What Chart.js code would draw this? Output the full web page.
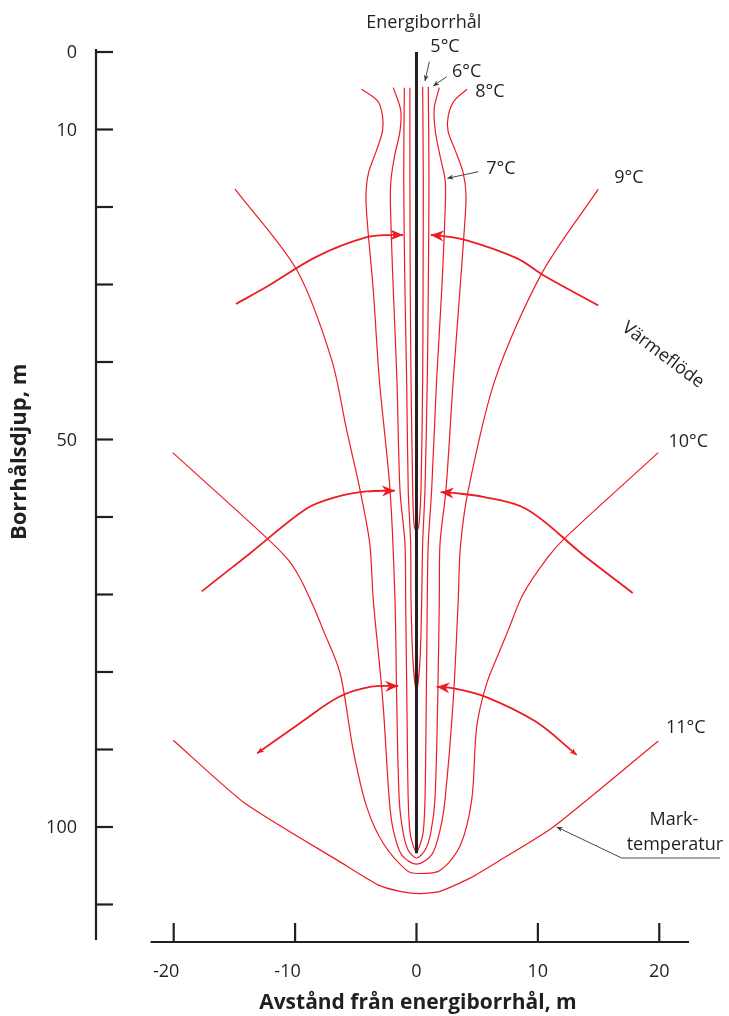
<!DOCTYPE html>
<html>
<head>
<meta charset="utf-8">
<script src="https://cdn.jsdelivr.net/npm/chart.js@4.4.1/dist/chart.umd.min.js"></script>
<style>
  html, body { margin: 0; padding: 0; background: #fff; }
  #wrap { width: 729px; height: 1016px; }
</style>
</head>
<body>
<div id="wrap"><canvas id="diagram" width="729" height="1016"></canvas></div>
<script>
// Axlar
const xTicks = [-20, -10, 0, 10, 20];
const xTickLabels = ['-20', '-10', '0', '10', '20'];
const yTicks = [0, 10, 20, 30, 40, 50, 60, 70, 80, 90, 100, 110];
const yTickLabels = ['0', '10', '', '', '', '50', '', '', '', '', '100', ''];

// Energiborrhål (avstånd m, djup m)
const holeX = [0, 0];
const holeDepth = [0, 103.4];

// Isotermer
const iso5X = [-0.54, -0.54, -0.51, -0.45, -0.31, -0.2, 0, 0.2, 0.37, 0.51, 0.54, 0.56, 0.51];
const iso5Depth = [4.6, 16.5, 30.7, 42.3, 56.5, 61, 61.9, 61, 56.5, 42.3, 30.7, 16.5, 4.5];

const iso6X = [-1.0, -1.05, -0.95, -0.81, -0.68, -0.48, -0.45, -0.29, 0, 0.29, 0.43, 0.51, 0.7, 0.89, 0.97, 1.03, 0.97];
const iso6Depth = [4.6, 16.5, 30.7, 42.3, 56.5, 63.4, 70.7, 78.5, 82.3, 78.5, 70.7, 63.4, 56.5, 42.3, 30.7, 16.5, 4.5];

const iso7X = [-1.91, -1.3, -1.36, -1.8, -2.1, -2.15, -1.91, -1.61, -1.36, -0.95, -0.89, -0.76, -0.68, -0.54, -0.29, 0, 0.29, 0.56, 0.7, 0.78, 0.89, 0.97, 1.25, 1.66, 2.08, 2.38, 2.36, 1.94, 1.55, 1.46, 1.88];
const iso7Depth = [4.6, 7.5, 10.2, 13.4, 16.5, 19.5, 30.7, 42.3, 56.5, 63.4, 70.7, 87.9, 96.5, 100.6, 102.3, 103.2, 102.3, 100.6, 96.5, 87.9, 70.7, 63.4, 56.5, 42.3, 30.7, 19.5, 16.5, 13.4, 10.2, 7.3, 4.6];

const iso8X = [-4.51, -3.2, -2.8, -2.8, -3.27, -3.95, -4.16, -4.05, -3.56, -3.06, -2.18, -1.77, -1.63, -1.42, -1.09, -0.68, 0, 0.7, 1.17, 1.52, 1.75, 1.88, 1.94, 2.43, 3.03, 3.58, 3.98, 4.08, 3.85, 3.17, 2.6, 2.62, 3.1, 4.16];
const iso8Depth = [4.8, 6.3, 8.2, 10.2, 12.6, 15.6, 18.5, 22.0, 30.7, 42.3, 56.5, 70.7, 83.6, 96.5, 100.8, 103.0, 104.0, 103.0, 100.8, 96.5, 83.6, 70.7, 63.4, 56.5, 42.3, 30.7, 22.0, 18.5, 15.6, 12.6, 10.2, 8.2, 6.3, 4.8];

const iso9X = [-14.95, -9.87, -6.99, -5.75, -4.65, -3.85, -3.56, -2.78, -2.24, -1.91, -1.22, 0, 1.25, 1.94, 2.35, 3.03, 3.44, 3.62, 4.27, 6.47, 10.31, 14.98];
const iso9Depth = [17.7, 28.1, 39.7, 48.8, 56.5, 63.4, 70.7, 83.6, 96.5, 100.4, 103.6, 104.8, 103.6, 100.4, 96.5, 83.6, 70.7, 63.8, 56.5, 42.3, 28.6, 17.7];

const iso10X = [-20.08, -12.48, -10.58, -9.59, -8.53, -7.68, -6.3, -5.21, -4.1, -2.74, -0.81, 0.12, 1.94, 3.58, 4.55, 4.96, 5.78, 6.88, 7.56, 8.8, 10.86, 12.37, 19.92];
const iso10Depth = [51.7, 62.5, 65.5, 67.9, 71.4, 74.6, 80.1, 90.1, 97.4, 102.1, 105.6, 106.0, 105.6, 102.5, 96.5, 87.1, 81.5, 77.2, 74.6, 69.9, 65.1, 62.5, 51.7];

const iso11X = [-20.04, -14.16, -6.3, -3.12, -1.36, 0.29, 1.94, 4.41, 6.88, 11.27, 19.92];
const iso11Depth = [88.8, 96.9, 104.5, 107.5, 108.3, 108.6, 108.3, 106.6, 104.3, 100.0, 88.9];

// Värmeflöde (pilar mot borrhålet)
const flow1LX = [-14.87, -12.34, -8.22, -4.1, -1.91, -1.09];
const flow1LDepth = [32.5, 30.3, 26.4, 23.9, 23.6, 23.6];
const flow1RX = [14.98, 10.45, 8.25, 4.14, 1.94, 1.17];
const flow1RDepth = [32.7, 28.8, 26.6, 24.3, 23.7, 23.6];
const flow2LX = [-17.69, -13.72, -9.04, -6.57, -4.1, -1.77];
const flow2LDepth = [69.6, 64.7, 58.9, 57.4, 56.7, 56.6];
const flow2RX = [17.81, 13.74, 9.08, 5.5, 3.03, 1.99];
const flow2RDepth = [69.8, 64.9, 59.0, 57.4, 56.9, 56.8];
const flow3LX = [-13.13, -9.6, -6.36, -3.72, -1.5];
const flow3LDepth = [90.5, 86.6, 83.2, 81.9, 81.8];
const flow3RX = [13.2, 9.82, 5.7, 3.06, 1.66];
const flow3RDepth = [90.7, 86.4, 83.2, 82.1, 81.9];

// Hänvisningslinjer
const lead5X = [1.06, 0.7];
const lead5Depth = [1.25, 3.74];
const lead6X = [2.49, 1.38];
const lead6Depth = [3.19, 4.39];
const lead7X = [5.09, 2.54];
const lead7Depth = [15.45, 16.3];
const leadMarkX = [16.9, 11.55];
const leadMarkDepth = [104.0, 100.0];
const underlineX = [16.9, 25.0];
const underlineDepth = [104.0, 104.0];

const RED = '#ed1c24';
const INK = '#231f20';
const FONT = '"Open Sans", "Noto Sans", sans-serif';

// Text i diagrammet (placering i axlarnas enheter)
const notes = [
    { text: 'Energiborrhål', x: 0.6, y: -3.7 },
    { text: '5°C', x: 2.35, y: -0.65 },
    { text: '6°C', x: 4.13, y: 2.54 },
    { text: '8°C', x: 6.05, y: 5.12 },
    { text: '7°C', x: 6.96, y: 15.14 },
    { text: '9°C', x: 17.5, y: 16.26 },
    { text: '10°C', x: 22.39, y: 50.28 },
    { text: '11°C', x: 22.18, y: 87.27 },
    { text: 'Mark-', x: 21.21, y: 99.1 },
    { text: 'temperatur', x: 21.29, y: 102.3 },
    { text: 'Värmeflöde', x: 20.3, y: 39.1, angle: 37 }
];

function points(xs, ys) {
    return xs.map(function (x, i) { return { x: x, y: ys[i] }; });
}

function isotherm(label, xs, ys, tension) {
    return { label: label, data: points(xs, ys), borderColor: RED, borderWidth: 1.2, tension: tension };
}

function flow(label, xs, ys, startHead) {
    return { label: label, data: points(xs, ys), borderColor: RED, borderWidth: 1.8, tension: 0.35, headEnd: 13, headStart: startHead };
}

function leader(label, xs, ys) {
    return { label: label, data: points(xs, ys), borderColor: '#333', borderWidth: 0.9, tension: 0, headEnd: 6 };
}

const datasets = [
    { label: 'Energiborrhål', data: points(holeX, holeDepth), borderColor: INK, borderWidth: 3, tension: 0 },
    isotherm('5°C', iso5X, iso5Depth, 0.3),
    isotherm('6°C', iso6X, iso6Depth, 0.3),
    isotherm('7°C', iso7X, iso7Depth, 0.3),
    isotherm('8°C', iso8X, iso8Depth, 0.3),
    isotherm('9°C', iso9X, iso9Depth, 0.3),
    isotherm('10°C', iso10X, iso10Depth, 0.3),
    isotherm('11°C', iso11X, iso11Depth, 0.2),
    flow('flöde 1 v', flow1LX, flow1LDepth, 0),
    flow('flöde 1 h', flow1RX, flow1RDepth, 0),
    flow('flöde 2 v', flow2LX, flow2LDepth, 0),
    flow('flöde 2 h', flow2RX, flow2RDepth, 0),
    flow('flöde 3 v', flow3LX, flow3LDepth, 7),
    flow('flöde 3 h', flow3RX, flow3RDepth, 7),
    leader('5°C pil', lead5X, lead5Depth),
    leader('6°C pil', lead6X, lead6Depth),
    leader('7°C pil', lead7X, lead7Depth),
    leader('mark pil', leadMarkX, leadMarkDepth),
    { label: 'understrykning', data: points(underlineX, underlineDepth), borderColor: '#8a8a8a', borderWidth: 1.5, tension: 0, clip: false }
];

// Pilspets
function drawHead(ctx, from, to, len, color) {
    const a = Math.atan2(to.y - from.y, to.x - from.x);
    const half = len * 0.42;
    ctx.save();
    ctx.translate(to.x, to.y);
    ctx.rotate(a);
    ctx.fillStyle = color;
    ctx.beginPath();
    ctx.moveTo(0, 0);
    ctx.lineTo(-len, -half);
    ctx.lineTo(-len * 0.7, 0);
    ctx.lineTo(-len, half);
    ctx.closePath();
    ctx.fill();
    ctx.restore();
}

const decor = {
    id: 'decor',
    afterDatasetsDraw: function (chart) {
        const ctx = chart.ctx;
        chart.data.datasets.forEach(function (ds, i) {
            const pts = chart.getDatasetMeta(i).data;
            if (ds.headEnd) drawHead(ctx, pts[pts.length - 2], pts[pts.length - 1], ds.headEnd, ds.borderColor);
            if (ds.headStart) drawHead(ctx, pts[1], pts[0], ds.headStart, ds.borderColor);
        });
    },
    afterDraw: function (chart) {
        const ctx = chart.ctx;
        const xs = chart.scales.x;
        const ys = chart.scales.y;
        const area = chart.chartArea;

        ctx.save();
        ctx.strokeStyle = INK;
        ctx.fillStyle = INK;

        // y-axel
        ctx.lineWidth = 2.2;
        ctx.beginPath();
        ctx.moveTo(area.left, ys.getPixelForValue(0) - 3);
        ctx.lineTo(area.left, area.bottom - 2);
        ctx.stroke();
        yTicks.forEach(function (v) {
            const y = ys.getPixelForValue(v);
            ctx.beginPath();
            ctx.moveTo(area.left - 1, y);
            ctx.lineTo(area.left + 17, y);
            ctx.stroke();
        });

        // x-axel
        ctx.beginPath();
        ctx.moveTo(xs.getPixelForValue(-21.9), area.bottom);
        ctx.lineTo(xs.getPixelForValue(22.45), area.bottom);
        ctx.stroke();
        xTicks.forEach(function (v) {
            const x = xs.getPixelForValue(v);
            ctx.beginPath();
            ctx.moveTo(x, area.bottom);
            ctx.lineTo(x, area.bottom - 19);
            ctx.stroke();
        });

        // skalstreckstext
        ctx.font = '18px ' + FONT;
        ctx.textBaseline = 'middle';
        ctx.textAlign = 'right';
        yTicks.forEach(function (v, i) {
            if (yTickLabels[i]) ctx.fillText(yTickLabels[i], area.left - 19, ys.getPixelForValue(v) + 1);
        });
        ctx.textAlign = 'center';
        const minus = ctx.measureText('-').width;
        xTicks.forEach(function (v, i) {
            const x = xs.getPixelForValue(v) - (v < 0 ? minus * 1.3 : 0);
            ctx.fillText(xTickLabels[i], x, area.bottom + 30);
        });

        // axeltitlar
        ctx.font = 'bold 21px ' + FONT;
        ctx.fillText('Avstånd från energiborrhål, m', xs.getPixelForValue(0.12), area.bottom + 61);
        ctx.save();
        ctx.font = 'bold 22px ' + FONT;
        ctx.translate(20, ys.getPixelForValue(51.6));
        ctx.rotate(-Math.PI / 2);
        ctx.fillText('Borrhålsdjup, m', 0, 0);
        ctx.restore();

        // etiketter
        ctx.font = '18px ' + FONT;
        notes.forEach(function (n) {
            ctx.save();
            ctx.translate(xs.getPixelForValue(n.x), ys.getPixelForValue(n.y));
            if (n.angle) ctx.rotate(n.angle * Math.PI / 180);
            ctx.fillText(n.text, 0, 0);
            ctx.restore();
        });
        ctx.restore();
    }
};

new Chart(document.getElementById('diagram'), {
    type: 'scatter',
    data: { datasets: datasets },
    options: {
        responsive: false,
        animation: false,
        events: [],
        layout: { padding: { top: 52, right: 44, bottom: 0, left: 0 } },
        plugins: { legend: { display: false }, tooltip: { enabled: false } },
        elements: { point: { radius: 0, hoverRadius: 0 } },
        datasets: { scatter: { showLine: true } },
        scales: {
            x: {
                type: 'linear', min: -26.4, max: 22.12,
                grid: { display: false }, border: { display: false }, ticks: { display: false },
                afterFit: function (s) { s.height = 74; }
            },
            y: {
                type: 'linear', reverse: true, min: 0, max: 114.84,
                grid: { display: false }, border: { display: false }, ticks: { display: false },
                afterFit: function (s) { s.width = 96; }
            }
        }
    },
    plugins: [decor]
});
</script>
</body>
</html>
